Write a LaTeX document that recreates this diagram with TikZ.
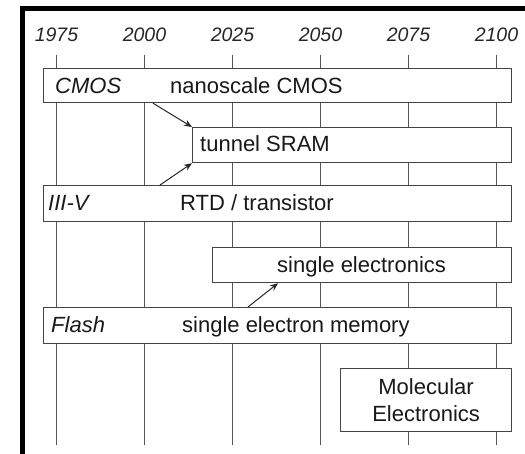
\documentclass[tikz,border=0pt]{standalone}
\usepackage{fontspec}
\setmainfont{Liberation Sans}
\usetikzlibrary{arrows.meta}
\definecolor{boxline}{HTML}{444444}
\definecolor{gridline}{HTML}{555555}
\tikzset{
  tbox/.style={draw=boxline, line width=1.2pt, fill=white, inner sep=0pt, anchor=north west},
  lbl/.style={inner sep=0pt, anchor=base west, text=black!90, font=\fontsize{22}{27}\selectfont},
  year/.style={inner sep=0pt, anchor=base, text=black!85, font=\fontsize{19.5}{22}\selectfont\itshape},
  gridl/.style={draw=gridline, line width=0.9pt},
  conn/.style={draw=black!85, line width=1pt, -{Stealth[length=8pt,width=6.5pt]}},
  frame/.style={draw=black, line width=5pt}
}
\begin{document}
\begin{tikzpicture}[x=1pt,y=-1pt]
\useasboundingbox (0,0) rectangle (525,454);
\fill[white] (0,0) rectangle (525,454);
% frame
\draw[frame] (22.5,454) -- (22.5,8.5) -- (525,8.5);
% grid lines and year labels
\foreach \yr [count=\i from 0] in {1975,2000,2025,2050,2075,2100} {
  \coordinate (g\i) at (56.5+88*\i,55);
  \draw[gridl] (g\i) -- ++(0,390);
  \node[year] (y\i) at (56.5+88*\i,42) {\yr};
}
% boxes
\node[tbox, minimum width=468pt, minimum height=34pt] (cmos) at (43,68) {};
\node[tbox, minimum width=319pt, minimum height=35pt] (sram) at (192,127) {};
\node[tbox, minimum width=468pt, minimum height=36pt] (iiiv) at (43,185) {};
\node[tbox, minimum width=299pt, minimum height=35pt] (se) at (212,247) {};
\node[tbox, minimum width=468pt, minimum height=36pt] (flash) at (43,307) {};
\node[tbox, minimum width=171pt, minimum height=63pt] (mol) at (340,368) {};
% labels
\node[lbl] (lcmos) at (55,94) {\itshape CMOS};
\node[lbl] (lnano) at (170,94) {nanoscale CMOS};
\node[lbl] (lsram) at (200,152) {tunnel SRAM};
\node[lbl] (liiiv) at (48,211) {\itshape III-V};
\node[lbl] (lrtd) at (180,211) {RTD / transistor};
\node[lbl] (lse) at (277,272.5) {single electronics};
\node[lbl] (lflash) at (51,333) {\itshape Flash};
\node[lbl] (lsem) at (182,333) {single electron memory};
\node[inner sep=0pt, align=center, text=black!90, font=\fontsize{22}{27}\selectfont] (lmol) at (mol.center) {Molecular\\Electronics};
% connectors
\draw[conn] ([xshift=110pt]cmos.south west) -- (sram.north west);
\draw[conn] ([xshift=117pt]iiiv.north west) -- (sram.south west);
\draw[conn] ([xshift=205pt]flash.north west) -- ([xshift=66pt]se.south west);
\end{tikzpicture}
\end{document}
